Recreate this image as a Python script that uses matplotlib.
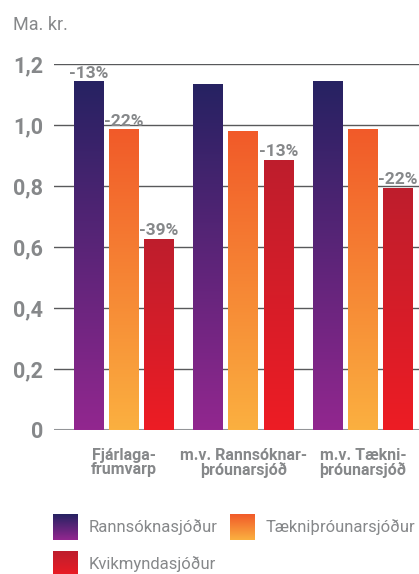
import matplotlib
matplotlib.use("Agg")
import matplotlib.pyplot as plt
import numpy as np
from matplotlib.colors import LinearSegmentedColormap

plt.rcParams["font.family"] = ["Roboto", "DejaVu Sans"]

categories = ["Fjárlaga-\nfrumvarp", "m.v. Rannsóknar-\nþróunarsjóð", "m.v. Tækni-\nþróunarsjóð"]
series = ["Rannsóknasjóður", "Tækniþróunarsjóður", "Kvikmyndasjóður"]
rannsokna = [1.141, 1.134, 1.141]
taekni = [0.984, 0.980, 0.984]
kvikmynda = [0.626, 0.885, 0.793]
values = [rannsokna, taekni, kvikmynda]
# percent labels per series (None where no label)
pct_labels = [["-13%", None, None], ["-22%", None, None], ["-39%", "-13%", "-22%"]]
y_ticks = [0, 0.2, 0.4, 0.6, 0.8, 1.0, 1.2]

# top colour, bottom colour
gradients = [("#262262", "#92278f"), ("#f15a29", "#fbb040"), ("#be1e2d", "#ed1c24")]
GREY = "#86888a"

W, H = 419, 574
fig = plt.figure(figsize=(W / 100, H / 100), dpi=100)
ax = fig.add_axes([54 / W, 1 - 430 / H, (W - 54) / W, (430 - 64) / H])

bar_w = 0.251
offset = 0.293
x = np.arange(len(categories))

for gy in y_ticks[1:]:
    ax.axhline(gy, color="#58595b", linewidth=1.0, zorder=1)
ax.axhline(0, color="#939598", linewidth=1.5, zorder=1)

for i, (vals, (c_top, c_bot)) in enumerate(zip(values, gradients)):
    cmap = LinearSegmentedColormap.from_list(f"g{i}", [c_bot, c_top])
    grad = np.linspace(0, 1, 256).reshape(-1, 1)
    for j, v in enumerate(vals):
        xc = x[j] + (i - 1) * offset
        ax.imshow(grad, extent=[xc - bar_w / 2, xc + bar_w / 2, 0, v], origin="lower",
                  cmap=cmap, aspect="auto", zorder=2)
        lab = pct_labels[i][j]
        if lab:
            ax.text(xc, v + 0.004, lab, ha="center", va="bottom", fontsize=12.5,
                    fontweight="bold", color=GREY, zorder=3, clip_on=False)

ax.set_xlim(-0.586, 2.469)
ax.set_ylim(0, 1.2)
ax.set_yticks(y_ticks)
ax.set_yticklabels([f"{t:.1f}".replace(".", ",") if t else "0" for t in y_ticks],
                   fontsize=15.5, fontweight="bold", color=GREY)
ax.tick_params(axis="y", length=0, pad=8)
ax.set_xticks(x)
ax.set_xticklabels(categories, fontsize=11.5, fontweight="bold", color=GREY, linespacing=0.95)
ax.tick_params(axis="x", length=0, pad=13)
for s in ax.spines.values():
    s.set_visible(False)

fig.text(13 / W, 1 - 25 / H, "Ma. kr.", fontsize=13, color=GREY, ha="left", va="center")

# legend with gradient swatches
leg = fig.add_axes([0, 0, 1, 1])
leg.axis("off")
leg_pos = [(53, 514), (230, 514), (53, 551)]
for i, ((lx, ly), (c_top, c_bot)) in enumerate(zip(leg_pos, gradients)):
    cmap = LinearSegmentedColormap.from_list(f"l{i}", [c_top, c_bot])
    grad = np.linspace(0, 1, 64).reshape(-1, 1)
    leg.imshow(grad, extent=[lx, lx + 25, ly + 26, ly], origin="upper", cmap=cmap, aspect="auto")
    leg.text(lx + 36, ly + 13, series[i], fontsize=12, color=GREY, ha="left", va="center")
leg.set_xlim(0, W)
leg.set_ylim(H, 0)

fig.savefig("out.png", dpi=100, facecolor="white")
